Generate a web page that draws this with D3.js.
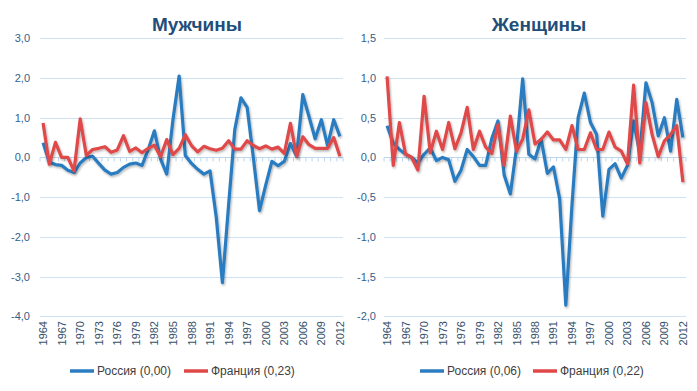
<!DOCTYPE html>
<html><head><meta charset="utf-8">
<script src="https://cdn.jsdelivr.net/npm/d3@7"></script>
<style>
body{margin:0;background:#fff;}
svg{display:block;font-family:"Liberation Sans Narrow","Liberation Sans",Arial,sans-serif;}
</style></head>
<body><svg id="chart" width="697" height="391"></svg>
<script>
const years = d3.range(1964, 2013);
const tickYears = d3.range(1964, 2013, 3);

const menTitle = "Мужчины";
const womenTitle = "Женщины";

const menRussia = [0.37,-0.12,-0.18,-0.2,-0.32,-0.38,-0.14,0.0,0.03,-0.15,
  -0.32,-0.42,-0.38,-0.25,-0.17,-0.14,-0.2,0.2,0.67,-0.04,
  -0.42,0.95,2.05,0.05,-0.15,-0.3,-0.42,-0.34,-1.5,-3.15,
  -1.2,0.7,1.5,1.26,0.0,-1.34,-0.7,-0.1,-0.21,-0.1,
  0.35,0.03,1.58,1.03,0.47,0.95,0.3,0.95,0.53];
const menFrance = [0.87,-0.17,0.38,0.0,0.0,-0.34,0.97,0.05,0.2,0.23,
  0.27,0.13,0.19,0.55,0.15,0.24,0.12,0.23,0.31,0.02,
  0.45,0.07,0.23,0.57,0.3,0.14,0.28,0.22,0.18,0.23,
  0.42,0.21,0.21,0.42,0.3,0.22,0.29,0.21,0.26,0.1,
  0.86,0.03,0.52,0.32,0.23,0.23,0.23,0.5,0.03];

const womenRussia = [0.40,0.18,0.10,0.04,0.0,-0.07,0.04,0.12,-0.04,0.0,
  -0.03,-0.3,-0.16,0.10,0.01,-0.10,-0.10,0.24,0.46,-0.22,
  -0.46,0.12,0.99,0.04,-0.02,0.23,-0.2,-0.12,-0.52,-1.86,
  -0.6,0.5,0.81,0.44,0.29,-0.74,-0.15,-0.08,-0.26,-0.1,
  0.46,0.05,0.94,0.69,0.27,0.5,0.08,0.73,0.25];
const womenFrance = [1.02,-0.10,0.44,0.04,0.0,-0.16,0.77,0.06,0.33,0.10,
  0.44,0.11,0.31,0.63,0.10,0.33,0.13,0.05,0.41,-0.10,
  0.52,0.08,0.23,0.60,0.17,0.23,0.32,0.22,0.22,0.10,
  0.40,0.10,0.10,0.31,0.10,0.10,0.32,0.13,0.08,-0.08,
  0.91,-0.07,0.69,0.29,0.01,0.21,0.29,0.40,-0.31];

const menTicks = [3,2,1,0,-1,-2,-3,-4];
const womenTicks = [1.5,1,0.5,0,-0.5,-1,-1.5,-2];
const menLegend = ["Россия (0,00)", "Франция (0,23)"];
const womenLegend = ["Россия (0,06)", "Франция (0,22)"];

const colors = {russia:"#2B7CC0", france:"#E04848"};

const svg = d3.select("#chart");
const defs = svg.append("defs");
const f = defs.append("filter").attr("id","sh").attr("x","-5%").attr("y","-5%").attr("width","110%").attr("height","120%");
f.append("feDropShadow").attr("dx",1).attr("dy",1.5).attr("stdDeviation",1).attr("flood-color","#000").attr("flood-opacity",0.3);

const fmt = v => d3.format(".1f")(v).replace(".", ",").replace("\u2212","-");

function panel(o){
  const g = svg.append("g");
  const x = d3.scaleBand().domain(years).range([o.x0, o.x1]).padding(0);
  const cx = d => x(d) + x.bandwidth()/2;
  const y = d3.scaleLinear().domain(o.domain).range([316.3, 38.3]);

  g.append("g").selectAll("line").data(o.ticks).join("line")
    .attr("x1", o.x0).attr("x2", o.x1)
    .attr("y1", d => Math.round(y(d))+0.5).attr("y2", d => Math.round(y(d))+0.5)
    .attr("stroke", "#CFE2F3").attr("stroke-width", 1);

  g.append("g").selectAll("text").data(o.ticks).join("text")
    .attr("x", o.x0 - o.labelGap).attr("y", d => y(d) + 4)
    .attr("text-anchor", "end").attr("font-size", 11).attr("fill", "#34608C")
    .text(fmt);

  const y0 = Math.round(y(0)) + 0.5;
  g.append("line").attr("x1", o.x0).attr("x2", o.x1).attr("y1", y0).attr("y2", y0)
    .attr("stroke", "#BCD6EE").attr("stroke-width", 1);
  g.append("g").selectAll("line").data(years.concat([null])).join("line")
    .attr("x1", d => d === null ? o.x1 : x(d)).attr("x2", d => d === null ? o.x1 : x(d))
    .attr("y1", y0).attr("y2", y0 + 4)
    .attr("stroke", "#BCD6EE").attr("stroke-width", 1);

  g.append("g").selectAll("text").data(tickYears).join("text")
    .attr("transform", d => `translate(${cx(d)+4},${321}) rotate(-90)`)
    .attr("text-anchor", "end").attr("font-size", 11).attr("fill", "#34506C")
    .text(d => d);

  const line = d3.line().x((d,i) => cx(years[i])).y(d => y(d));
  g.append("path").datum(o.russia).attr("d", line).attr("fill","none")
    .attr("stroke", colors.russia).attr("stroke-width", 3.2).attr("stroke-linejoin","round").attr("filter","url(#sh)");
  g.append("path").datum(o.france).attr("d", line).attr("fill","none")
    .attr("stroke", colors.france).attr("stroke-width", 3.2).attr("stroke-linejoin","round").attr("filter","url(#sh)");

  g.append("line").attr("x1", o.x0 + 1).attr("x2", o.x1 - 2).attr("y1", y(0)).attr("y2", y(0))
    .attr("stroke", "#000").attr("stroke-width", 4).attr("stroke-dasharray", "10,6")
    .attr("filter","url(#sh)");

  g.append("text").attr("x", o.titleX).attr("y", 31).attr("text-anchor","middle")
    .attr("font-family", "'Liberation Sans', Arial, sans-serif")
    .attr("font-size", 19).attr("font-weight","bold").attr("fill","#1F4E79")
    .text(o.title);

  const leg = g.append("g");
  const items = [{c:colors.russia, t:o.legend[0], x:o.legX[0]}, {c:colors.france, t:o.legend[1], x:o.legX[1]}];
  items.forEach(it => {
    leg.append("line").attr("x1", it.x).attr("x2", it.x + 24).attr("y1", 371).attr("y2", 371)
      .attr("stroke", it.c).attr("stroke-width", 3.5);
    leg.append("text").attr("x", it.x + 27).attr("y", 375).attr("font-size", 12).attr("fill", "#404040")
      .text(it.t);
  });
}

panel({x0:40, x1:343, domain:[-4,3], ticks:menTicks, russia:menRussia, france:menFrance,
  title:menTitle, titleX:197, legend:menLegend, legX:[70,184], labelGap:10});
panel({x0:384, x1:686, domain:[-2,1.5], ticks:womenTicks, russia:womenRussia, france:womenFrance,
  title:womenTitle, titleX:539, legend:womenLegend, legX:[420,533], labelGap:8});
</script></body></html>
